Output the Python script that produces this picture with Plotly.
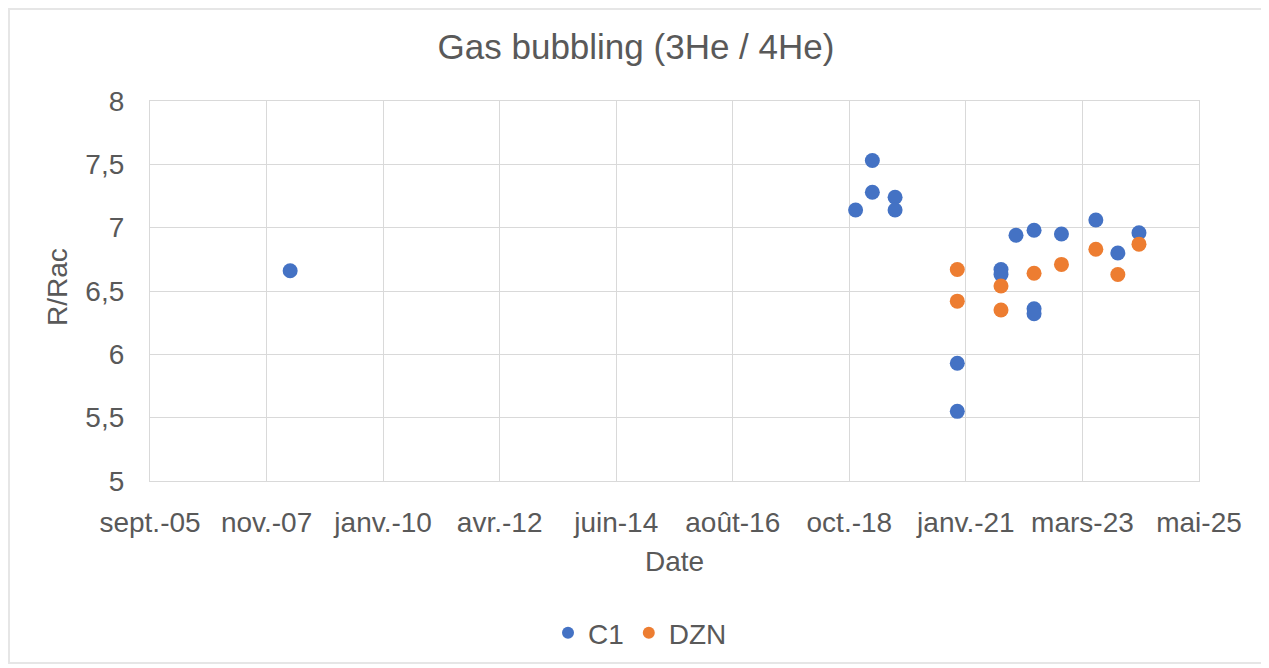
import plotly.graph_objects as go

# ---- data ----
c1_dates = ["2008-04-24", "2018-12-09", "2019-04-03", "2019-04-03", "2019-09-06", "2019-09-06",
            "2020-11-06", "2020-11-06", "2021-09-02", "2021-09-02", "2021-12-14",
            "2022-04-17", "2022-04-17", "2022-04-17", "2022-10-22", "2023-06-15",
            "2023-11-13", "2024-04-06"]
c1_values = [6.66, 7.14, 7.53, 7.28, 7.24, 7.14,
             5.93, 5.55, 6.67, 6.63, 6.94,
             6.98, 6.36, 6.32, 6.95, 7.06,
             6.80, 6.96]

dzn_dates = ["2020-11-06", "2020-11-06", "2021-09-02", "2021-09-02", "2022-04-17",
             "2022-10-22", "2023-06-15", "2023-11-13", "2024-04-06"]
dzn_values = [6.67, 6.42, 6.54, 6.35, 6.64, 6.71, 6.83, 6.63, 6.87]

x_tick_dates = ["2005-09-05", "2007-11-14", "2010-01-22", "2012-04-01", "2014-06-10",
                "2016-08-18", "2018-10-27", "2021-01-04", "2023-03-15", "2025-05-23"]
x_tick_labels = ["sept.-05", "nov.-07", "janv.-10", "avr.-12", "juin-14",
                 "août-16", "oct.-18", "janv.-21", "mars-23", "mai-25"]
y_ticks = [5, 5.5, 6, 6.5, 7, 7.5, 8]

FONT = "Liberation Sans, Arial, Helvetica, sans-serif"
TXT = "#595959"
GRID = "#D9D9D9"

# page body has an 8px margin: shift layout so the screenshot matches
OFF = 8
L, R, T, B = 150 - OFF, 1199 - OFF, 101 - OFF, 481 - OFF
W, H = 1269, 668
PW, PH = R - L, B - T

fig = go.Figure()
fig.add_trace(go.Scatter(x=c1_dates, y=c1_values, mode="markers", name="C1",
                         marker=dict(color="#4472C4", size=15)))
fig.add_trace(go.Scatter(x=dzn_dates, y=dzn_values, mode="markers", name="DZN",
                         marker=dict(color="#ED7D31", size=15)))

fig.update_layout(
    width=W, height=H,
    margin=dict(l=L, r=W - R, t=T, b=H - B, autoexpand=False),
    paper_bgcolor="white", plot_bgcolor="white",
    separators=", ",
    font=dict(family=FONT, color=TXT, size=28),
    title=dict(text="Gas bubbling (3He / 4He)", x=(636 - OFF) / W, xref="container", xanchor="center",
               y=1 - (47 - OFF) / H, yref="container", yanchor="middle",
               font=dict(size=35, color=TXT, family=FONT)),
    showlegend=True,
    legend=dict(orientation="h", x=(640 - OFF) / W, xref="container", xanchor="center",
                y=(B - (633 - OFF)) / PH, yanchor="middle", itemsizing="constant",
                font=dict(size=28, color=TXT), bgcolor="rgba(0,0,0,0)"),
    xaxis=dict(type="date", range=[x_tick_dates[0], x_tick_dates[-1]],
               tickmode="array", tickvals=x_tick_dates, ticktext=x_tick_labels,
               showgrid=True, gridcolor=GRID, gridwidth=1.3,
               showline=True, linecolor=GRID, linewidth=1.3, mirror=True,
               ticks="outside", ticklen=16, tickcolor="rgba(0,0,0,0)",
               zeroline=False, tickangle=0, automargin=False,
               title=dict(text="Date", standoff=14, font=dict(size=28, color=TXT))),
    yaxis=dict(range=[5, 8], tickmode="array", tickvals=y_ticks,
               showgrid=True, gridcolor=GRID, gridwidth=1.3,
               showline=True, linecolor=GRID, linewidth=1.3, mirror=True,
               ticks="outside", ticklen=19, tickcolor="rgba(0,0,0,0)",
               zeroline=False, automargin=False),
    annotations=[dict(text="R/Rac", textangle=-90, xref="paper", yref="paper",
                      x=(57 - OFF - L) / PW, y=(B - (287 - OFF)) / PH,
                      xanchor="center", yanchor="middle", showarrow=False,
                      font=dict(size=28, color=TXT, family=FONT))],
    shapes=[dict(type="rect", xref="paper", yref="paper",
                 x0=(1 - L) / PW, x1=(1262 - OFF - L) / PW,
                 y0=(B - (663 - OFF)) / PH, y1=(B - 1) / PH,
                 line=dict(color="#E6E6E6", width=2), fillcolor="rgba(0,0,0,0)", layer="below")],
)

fig.write_html("out.html")
